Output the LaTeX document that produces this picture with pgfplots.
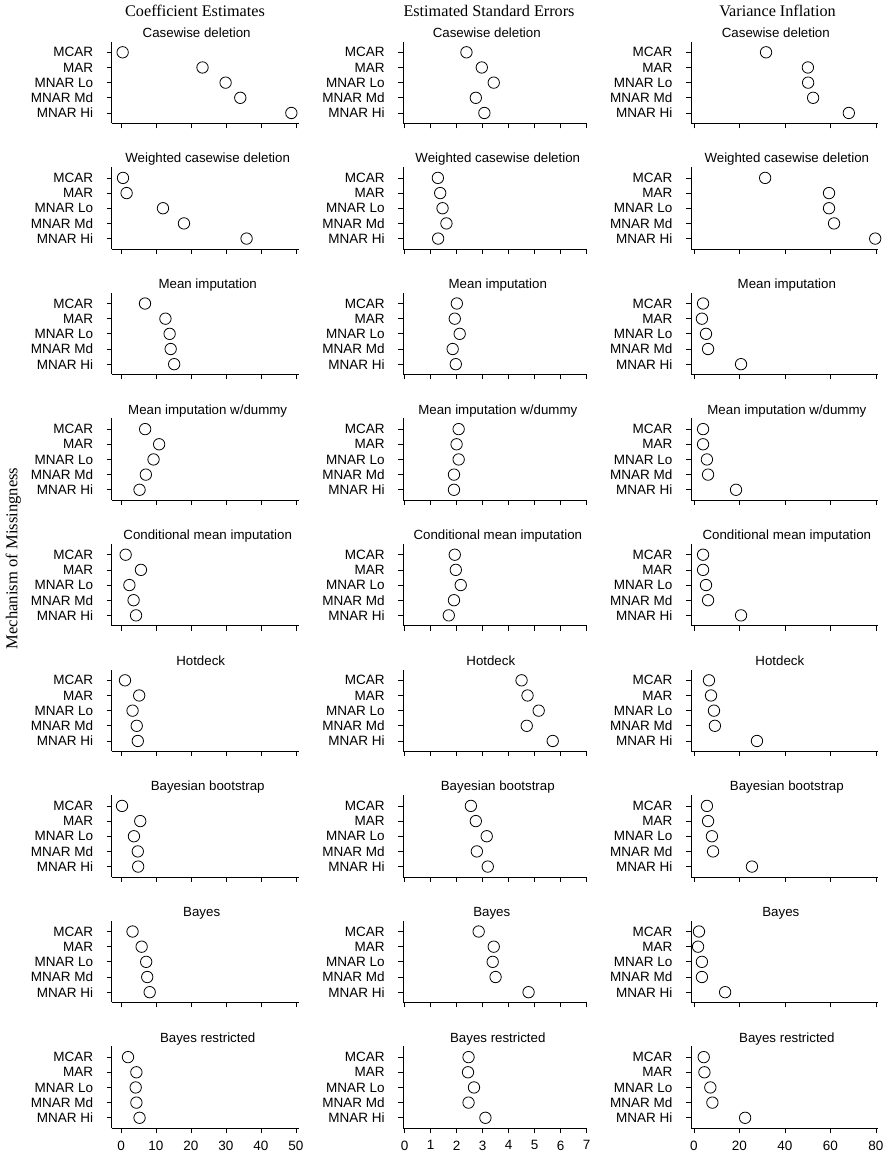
\documentclass[border=0pt]{standalone}
\usepackage{fontspec}
\setmainfont{Liberation Serif}
\newfontfamily\hv{Liberation Sans}
\usepackage{pgfplots}
\pgfplotsset{compat=1.18}
\pgfplotsset{
  every axis title/.style={at={(0.5,1)}, anchor=base, inner sep=0pt, yshift=4.4pt},
  panel/.style={scale only axis, height=81.6pt, anchor=south west,
    axis x line*=bottom, axis y line*=left,
    axis line style={-, line width=0.75pt, black},
    every tick/.style={black, line width=0.75pt},
    tick align=outside, major tick length=5pt,
    ymin=0.32, ymax=5.7, ytick={1,2,3,4,5},
    yticklabels={MNAR Hi,MNAR Md,MNAR Lo,MAR,MCAR},
    tick label style={font=\hv\fontsize{13.5pt}{14pt}\selectfont},
    yticklabel style={anchor=east, inner sep=0pt, xshift=-13.4pt},
    xticklabel style={anchor=north, inner sep=0pt, yshift=-7.3pt},
    /pgf/number format/assume math mode=true,
    title style={font=\hv\fontsize{13.3pt}{14pt}\selectfont},
    clip=false,
  },
  cA/.style={width=187pt, xmin=-2.66, xmax=50.8, xtick={0,10,...,50}},
  cB/.style={width=184pt, xmin=-0.05, xmax=7.03, xtick={0,1,...,7}},
  cC/.style={width=186.7pt, xmin=-1.3, xmax=80.8, xtick={0,20,...,80}},
  nl/.style={xticklabels={}},
  dots/.style={only marks, mark=*, mark size=5.7pt, mark options={draw=black, fill=white, line width=0.8pt}},
}
\newcommand\panel[5]{\begin{axis}[panel, #3, at={(#1pt,#2pt)}, title={#4}, title style={xshift=#5pt}]}
\begin{document}
\begin{tikzpicture}[x=1pt,y=1pt]
\useasboundingbox (0,0) rectangle (887,1152);
\node[font=\fontsize{16.2pt}{18pt}\selectfont, anchor=base] at (195,1135.3) {Coefficient Estimates};
\node[font=\fontsize{16.2pt}{18pt}\selectfont, anchor=base] at (489,1135.3) {Estimated Standard Errors};
\node[font=\fontsize{16.2pt}{18pt}\selectfont, anchor=base] at (777.5,1135.3) {Variance Inflation};
\node[font=\fontsize{16.6pt}{18pt}\selectfont, rotate=90] at (13.3,593.5) {Mechanism of Missingness};

% ---------- Column 1: Coefficient Estimates ----------
\panel{111.7}{1028.7}{cA,nl}{Casewise deletion}{-8.5}
\addplot[dots] coordinates {(0.47,5) (23.3,4) (29.9,3) (34.1,2) (48.7,1)};
\end{axis}
\panel{111.7}{903.1}{cA,nl}{Weighted casewise deletion}{2.5}
\addplot[dots] coordinates {(0.57,5) (1.6,4) (12.0,3) (18.0,2) (35.9,1)};
\end{axis}
\panel{111.7}{777.5}{cA,nl}{Mean imputation}{2.5}
\addplot[dots] coordinates {(6.86,5) (12.7,4) (13.9,3) (14.2,2) (15.2,1)};
\end{axis}
\panel{111.7}{651.9}{cA,nl}{Mean imputation w/dummy}{2.5}
\addplot[dots] coordinates {(6.9,5) (10.9,4) (9.3,3) (7.1,2) (5.3,1)};
\end{axis}
\panel{111.7}{526.3}{cA,nl}{Conditional mean imputation}{2.5}
\addplot[dots] coordinates {(1.33,5) (5.7,4) (2.4,3) (3.6,2) (4.3,1)};
\end{axis}
\panel{111.7}{400.7}{cA,nl}{Hotdeck}{-4.5}
\addplot[dots] coordinates {(1.14,5) (5.2,4) (3.3,3) (4.5,2) (4.8,1)};
\end{axis}
\panel{111.7}{275.1}{cA,nl}{Bayesian bootstrap}{2.5}
\addplot[dots] coordinates {(0.29,5) (5.5,4) (3.7,3) (4.8,2) (4.9,1)};
\end{axis}
\panel{111.7}{149.5}{cA,nl}{Bayes}{-3.5}
\addplot[dots] coordinates {(3.3,5) (5.9,4) (7.2,3) (7.5,2) (8.2,1)};
\end{axis}
\panel{111.7}{23.9}{cA}{Bayes restricted}{2.5}
\addplot[dots] coordinates {(2.0,5) (4.4,4) (4.2,3) (4.4,2) (5.3,1)};
\end{axis}

% ---------- Column 2: Estimated Standard Errors ----------
\panel{403.3}{1028.7}{cB,nl}{Casewise deletion}{-8.5}
\addplot[dots] coordinates {(2.38,5) (2.97,4) (3.43,3) (2.74,2) (3.07,1)};
\end{axis}
\panel{403.3}{903.1}{cB,nl}{Weighted casewise deletion}{2.5}
\addplot[dots] coordinates {(1.28,5) (1.37,4) (1.46,3) (1.61,2) (1.29,1)};
\end{axis}
\panel{403.3}{777.5}{cB,nl}{Mean imputation}{2.5}
\addplot[dots] coordinates {(2.01,5) (1.93,4) (2.12,3) (1.85,2) (1.97,1)};
\end{axis}
\panel{403.3}{651.9}{cB,nl}{Mean imputation w/dummy}{2.5}
\addplot[dots] coordinates {(2.08,5) (2.0,4) (2.08,3) (1.9,2) (1.9,1)};
\end{axis}
\panel{403.3}{526.3}{cB,nl}{Conditional mean imputation}{2.5}
\addplot[dots] coordinates {(1.93,5) (1.97,4) (2.16,3) (1.9,2) (1.7,1)};
\end{axis}
\panel{403.3}{400.7}{cB,nl}{Hotdeck}{-4.5}
\addplot[dots] coordinates {(4.5,5) (4.73,4) (5.16,3) (4.7,2) (5.7,1)};
\end{axis}
\panel{403.3}{275.1}{cB,nl}{Bayesian bootstrap}{2.5}
\addplot[dots] coordinates {(2.55,5) (2.74,4) (3.16,3) (2.78,2) (3.2,1)};
\end{axis}
\panel{403.3}{149.5}{cB,nl}{Bayes}{-3.5}
\addplot[dots] coordinates {(2.85,5) (3.43,4) (3.39,3) (3.5,2) (4.77,1)};
\end{axis}
\panel{403.3}{23.9}{cB}{Bayes restricted}{2.5}
\addplot[dots] coordinates {(2.46,5) (2.44,4) (2.67,3) (2.46,2) (3.11,1)};
\end{axis}

% ---------- Column 3: Variance Inflation ----------
\panel{691}{1028.7}{cC,nl}{Casewise deletion}{-8.5}
\addplot[dots] coordinates {(31.7,5) (50.1,4) (50.2,3) (52.4,2) (68.1,1)};
\end{axis}
\panel{691}{903.1}{cC,nl}{Weighted casewise deletion}{2.5}
\addplot[dots] coordinates {(31.3,5) (59.4,4) (59.4,3) (61.6,2) (79.7,1)};
\end{axis}
\panel{691}{777.5}{cC,nl}{Mean imputation}{2.5}
\addplot[dots] coordinates {(4.0,5) (3.5,4) (5.3,3) (6.2,2) (20.7,1)};
\end{axis}
\panel{691}{651.9}{cC,nl}{Mean imputation w/dummy}{2.5}
\addplot[dots] coordinates {(4.0,5) (4.0,4) (5.7,3) (6.2,2) (18.5,1)};
\end{axis}
\panel{691}{526.3}{cC,nl}{Conditional mean imputation}{2.5}
\addplot[dots] coordinates {(4.0,5) (4.0,4) (5.3,3) (6.2,2) (20.7,1)};
\end{axis}
\panel{691}{400.7}{cC,nl}{Hotdeck}{-4.5}
\addplot[dots] coordinates {(6.6,5) (7.5,4) (8.8,3) (9.2,2) (27.7,1)};
\end{axis}
\panel{691}{275.1}{cC,nl}{Bayesian bootstrap}{2.5}
\addplot[dots] coordinates {(5.7,5) (6.2,4) (7.9,3) (8.4,2) (25.5,1)};
\end{axis}
\panel{691}{149.5}{cC,nl}{Bayes}{-3.5}
\addplot[dots] coordinates {(2.2,5) (1.8,4) (3.5,3) (3.5,2) (13.7,1)};
\end{axis}
\panel{691}{23.9}{cC}{Bayes restricted}{2.5}
\addplot[dots] coordinates {(4.3,5) (4.6,4) (7.2,3) (8.1,2) (22.5,1)};
\end{axis}
\end{tikzpicture}
\end{document}
